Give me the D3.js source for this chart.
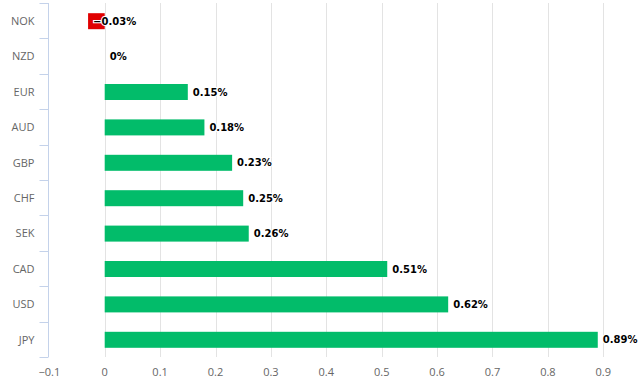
<!DOCTYPE html>
<meta charset="utf-8">
<script src="https://d3js.org/d3.v7.min.js"></script>
<style>
  body { margin: 0; background: #fff; }
</style>
<div id="chart"></div>
<script>

// data
var currencies = ["NOK", "NZD", "EUR", "AUD", "GBP", "CHF", "SEK", "CAD", "USD", "JPY"];
var changes = [-0.03, 0, 0.15, 0.18, 0.23, 0.25, 0.26, 0.51, 0.62, 0.89];
var xTicks = [-0.1, 0, 0.1, 0.2, 0.3, 0.4, 0.5, 0.6, 0.7, 0.8, 0.9];

var width = 643, height = 385;
var margin = {top: 3, right: 3, bottom: 28, left: 48.5};

var svg = d3.select("#chart")
  .append("svg")
  .attr("width", width)
  .attr("height", height);

var x = d3.scaleLinear()
  .domain([-0.1, 0.9])
  .range([49.3, 603.3]);

var y = d3.scaleBand()
  .domain(currencies)
  .range([margin.top, height - margin.bottom])
  .paddingInner(0)
  .paddingOuter(0);

// grid lines
svg.append("g")
  .selectAll("line")
  .data(xTicks.filter(function(d) { return d > -0.1; }))
  .enter().append("line")
  .attr("x1", function(d) { return Math.round(x(d)) + 0.5; })
  .attr("x2", function(d) { return Math.round(x(d)) + 0.5; })
  .attr("y1", margin.top)
  .attr("y2", height - margin.bottom)
  .style("stroke", "#e3e3e3")
  .style("stroke-width", 1);

// bars
var barH = 16;
svg.append("g")
  .selectAll("rect")
  .data(changes)
  .enter().append("rect")
  .attr("x", function(d) { return Math.min(x(0), x(d)); })
  .attr("width", function(d) { return Math.abs(x(d) - x(0)); })
  .attr("y", function(d, i) { return y(currencies[i]) + y.bandwidth() / 2 - barH / 2 + 0.5; })
  .attr("height", barH)
  .style("fill", function(d) { return d < 0 ? "#e00000" : "#02bc6a"; });

// value labels
svg.append("g")
  .selectAll("text")
  .data(changes)
  .enter().append("text")
  .attr("x", function(d) { return x(d) + 5; })
  .attr("y", function(d, i) { return y(currencies[i]) + y.bandwidth() / 2 + 0.5; })
  .attr("dy", "0.35em")
  .style("font-family", "'DejaVu Sans', sans-serif")
  .style("font-size", "10px")
  .style("font-weight", "bold")
  .style("fill", "#000")
  .style("stroke", "#fff")
  .style("stroke-width", 2)
  .style("paint-order", "stroke")
  .text(function(d) { return (d < 0 ? "\u2212" + Math.abs(d) : d) + "%"; });

// y axis (categories)
var yAxis = svg.append("g")
  .attr("transform", "translate(" + margin.left + ",0)");

yAxis.append("line")
  .attr("x1", 0).attr("x2", 0)
  .attr("y1", margin.top).attr("y2", height - margin.bottom)
  .style("stroke", "#c4d2ea");

var bounds = currencies.map(function(c) { return y(c); }).concat([y.range()[1]]);
yAxis.selectAll(".tk")
  .data(bounds)
  .enter().append("line")
  .attr("class", "tk")
  .attr("x1", -9).attr("x2", 0)
  .attr("y1", function(d) { return Math.round(d) + 0.5; })
  .attr("y2", function(d) { return Math.round(d) + 0.5; })
  .style("stroke", "#c4d2ea");

yAxis.selectAll(".lbl")
  .data(currencies)
  .enter().append("text")
  .attr("class", "lbl")
  .attr("x", -14)
  .attr("y", function(d) { return y(d) + y.bandwidth() / 2 + 0.5; })
  .attr("dy", "0.35em")
  .attr("text-anchor", "end")
  .style("font-family", "'Open Sans', sans-serif")
  .style("font-size", "11px")
  .style("fill", "#666")
  .text(function(d) { return d; });

// x axis labels
svg.append("g")
  .selectAll("text")
  .data(xTicks)
  .enter().append("text")
  .attr("x", function(d) { return x(d); })
  .attr("y", 372)
  .attr("dy", "0.35em")
  .attr("text-anchor", "middle")
  .style("font-family", "'Open Sans', sans-serif")
  .style("font-size", "11px")
  .style("fill", "#666")
  .text(function(d) { return d < 0 ? "\u2212" + Math.abs(d) : d; });

</script>
